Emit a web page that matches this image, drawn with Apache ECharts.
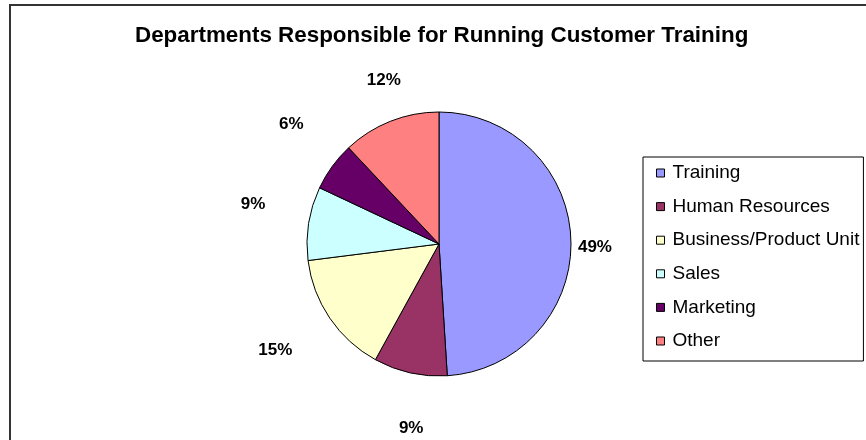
<!DOCTYPE html>
<html>
<head>
<meta charset="utf-8">
<script src="https://cdn.jsdelivr.net/npm/echarts@6/dist/echarts.min.js"></script>
<style>html,body{margin:0;padding:0;background:#fff;}#c{width:866px;height:440px;}</style>
</head>
<body>
<div id="c"></div>
<script>
var titleText = 'Departments Responsible for Running Customer Training';
var categories = ['Training', 'Human Resources', 'Business/Product Unit', 'Sales', 'Marketing', 'Other'];
var values = [49, 9, 15, 9, 6, 12];
var colors = ['#9999FF', '#993366', '#FFFFCC', '#CCFFFF', '#660066', '#FF8080'];

var chart = echarts.init(document.getElementById('c'), null, {renderer: 'canvas'});

var mainData = categories.map(function (n, i) {
  return {name: n, value: values[i], itemStyle: {color: colors[i]}};
});

var labelStyle = {
  fontFamily: 'Liberation Sans', fontWeight: 'bold', fontSize: 17, color: '#000',
  formatter: function (p) { return Math.round(p.percent) + '%'; }
};

// transparent ring series used only to place the percentage labels
function labelRing(radius, startAngle, showIdx) {
  return {
    type: 'pie',
    center: [439, 244], radius: radius,
    startAngle: startAngle, clockwise: true,
    avoidLabelOverlap: false, silent: true,
    itemStyle: {color: 'rgba(0,0,0,0)', borderWidth: 0},
    label: Object.assign({show: true, position: 'inside'}, labelStyle),
    labelLine: {show: false},
    emphasis: {disabled: true, scale: false},
    data: categories.map(function (n, i) {
      return {name: n, value: values[i], label: {show: showIdx.indexOf(i) >= 0}};
    })
  };
}

chart.setOption({
  backgroundColor: '#fff',
  animation: false,
  title: {
    text: titleText, left: 135, top: 25, padding: 0,
    textStyle: {fontFamily: 'Liberation Sans', fontWeight: 'bold', fontSize: 22.4, color: '#000'}
  },
  graphic: [{
    type: 'rect', silent: true, z: -10,
    shape: {x: 10, y: 5, width: 900, height: 500},
    style: {fill: 'none', stroke: '#333', lineWidth: 2}
  }],
  legend: {
    orient: 'vertical', left: 643, top: 157,
    data: categories,
    icon: 'rect', itemWidth: 8, itemHeight: 8, itemGap: 13.6,
    padding: [6, 4, 10, 13],
    borderColor: '#000', borderWidth: 1,
    itemStyle: {borderColor: '#000', borderWidth: 1},
    textStyle: {fontFamily: 'Liberation Sans', fontSize: 19, color: '#000', lineHeight: 20, padding: [0, 0, 0, 3]},
    selectedMode: false
  },
  series: [{
    type: 'pie', name: 'main',
    center: [439, 244], radius: 132,
    startAngle: 90, clockwise: true,
    avoidLabelOverlap: false,
    itemStyle: {borderColor: '#000', borderWidth: 1},
    label: {show: false},
    labelLine: {show: false},
    emphasis: {disabled: true, scale: false},
    data: mainData
  },
  labelRing([185, 189], 87, [3, 4]),
  labelRing([168, 172], 87, [5]),
  labelRing([150, 156], 87, [0]),
  labelRing([190, 194], 88.7, [2]),
  labelRing([181, 185], 94, [1])
  ]
});
</script>
</body>
</html>
